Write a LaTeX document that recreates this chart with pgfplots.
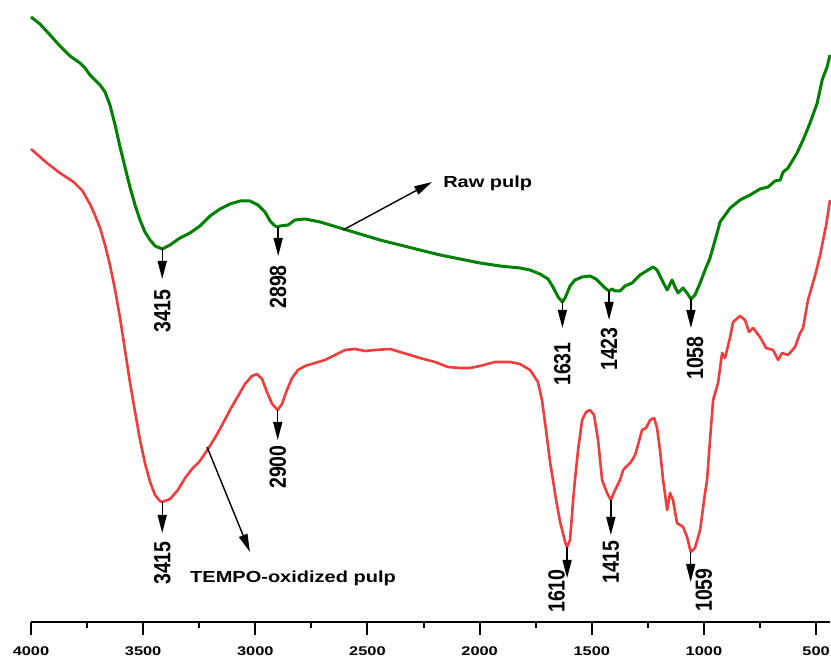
\documentclass[border=0pt]{standalone}
\usepackage{fontspec}
\setmainfont{Liberation Sans}
\usepackage{graphicx}
\usepackage{pgfplots}
\pgfplotsset{compat=1.18}
\usetikzlibrary{arrows.meta}
\definecolor{gcol}{RGB}{0,128,0}
\definecolor{rcol}{RGB}{240,60,60}
\newcommand{\vlab}[1]{\scalebox{1.2}[1]{\rotatebox{90}{\fontsize{19.5}{20}\selectfont\bfseries #1}}}
\newcommand{\hlab}[1]{\scalebox{1.25}[1]{\fontsize{16}{18}\selectfont\bfseries #1}}
\begin{document}
\begin{tikzpicture}
\begin{axis}[
  at={(31pt,39pt)}, anchor=south west,
  scale only axis, width=799pt, height=622pt,
  xmin=438, xmax=4000, ymin=39, ymax=661, x dir=reverse,
  axis x line*=bottom, axis y line=none,
  axis line style={line width=2pt},
  xtick={500,1000,...,4000}, minor x tick num=1,
  tick align=outside,
  major tick length=13pt, minor tick length=6pt,
  every tick/.style={line width=2pt, black},
  /pgf/number format/.cd, 1000 sep={}, assume math mode=true,
  /pgfplots/.cd,
  xticklabel={\scalebox{1.3}[1]{\fontsize{12.6}{14}\selectfont\bfseries\pgfmathprintnumber{\tick}}},
  xticklabel style={anchor=base, inner sep=0pt, yshift=-21pt},
  clip=false,
]
\addplot[gcol, line width=3pt, line join=round] table {
4000 644
3960 637
3915 626
3871 615
3826 605
3782 598
3759 593
3737 586
3715 581
3692 576
3670 569
3648 556
3625 536
3603 514
3581 494
3559 474
3536 456
3514 441
3492 429
3469 421
3447 415
3425 413
3415 412
3380 416
3336 423
3291 428
3247 435
3202 445
3157 452
3113 457
3068 460
3024 460
2988 456
2957 449
2934 440
2912 435
2898 434
2890 435
2854 436
2823 441
2778 442
2711 439
2622 433
2533 427
2444 421
2355 416
2266 411
2176 406
2087 402
1998 398
1909 395
1820 393
1775 391
1731 387
1695 382
1673 374
1650 364
1631 359
1619 363
1597 375
1575 381
1543 384
1508 385
1481 382
1463 378
1441 373
1423 370
1410 372
1396 370
1374 370
1352 375
1320 378
1285 386
1249 391
1227 394
1209 391
1187 381
1164 371
1142 381
1129 374
1115 368
1093 373
1075 368
1058 362
1040 366
1017 378
995 391
973 403
950 421
928 439
883 453
839 461
794 466
750 472
714 474
683 480
660 481
647 489
625 493
585 508
558 521
527 538
495 558
473 581
451 594
438 606
};
\addplot[rcol, line width=2.6pt, line join=round] table {
4000 512
3929 498
3871 488
3810 479
3770 470
3735 456
3715 446
3692 433
3670 416
3648 396
3625 371
3603 343
3581 311
3559 279
3536 249
3514 221
3492 198
3469 179
3447 166
3425 160
3415 159
3380 162
3345 171
3313 183
3282 192
3247 200
3211 212
3180 223
3148 236
3113 251
3077 265
3046 277
3015 285
2992 287
2970 282
2948 269
2925 257
2900 251
2881 257
2859 271
2836 283
2810 291
2778 295
2734 298
2689 301
2645 306
2600 311
2555 312
2511 310
2466 311
2399 312
2355 309
2310 306
2266 303
2199 299
2141 294
2087 293
2043 293
1998 295
1931 299
1864 299
1820 297
1775 291
1740 279
1722 261
1704 231
1686 199
1673 181
1659 161
1641 139
1632 131
1619 119
1610 114
1597 121
1583 161
1575 181
1561 211
1543 241
1525 249
1508 251
1490 246
1472 221
1454 181
1432 168
1415 161
1396 171
1374 181
1360 191
1343 195
1325 199
1307 206
1294 216
1276 231
1258 233
1240 241
1222 243
1209 233
1196 211
1182 181
1164 151
1151 168
1138 161
1120 138
1093 134
1075 124
1059 109
1040 113
1017 131
995 168
986 181
973 221
959 261
937 278
919 308
906 303
883 324
870 339
839 345
817 341
799 329
781 333
750 324
723 313
692 311
669 301
652 308
625 306
594 314
571 328
558 333
536 361
504 386
482 406
455 436
438 461
};
% arrows
\tikzset{va/.style={line width=1.4pt, -{Triangle[length=18pt,width=9pt]}}}
\draw[va] (axis cs:3415,413) -- (axis cs:3415,382);
\draw[va] (axis cs:2898,434) -- (axis cs:2898,405);
\draw[va] (axis cs:1631,359) -- (axis cs:1631,333);
\draw[va] (axis cs:1423,370) -- (axis cs:1423,341);
\draw[va] (axis cs:1058,362) -- (axis cs:1058,333);
\draw[va] (axis cs:3415,159) -- (axis cs:3415,128);
\draw[va] (axis cs:2900,251) -- (axis cs:2900,221);
\draw[va] (axis cs:1610,114) -- (axis cs:1610,83);
\draw[va] (axis cs:1415,161) -- (axis cs:1415,126);
\draw[va] (axis cs:1059,109) -- (axis cs:1059,79);
\draw[va] (axis cs:2609,431) -- (axis cs:2212,479);
\draw[va] (axis cs:3215,214) -- (axis cs:3024,109);
% labels
\node[inner sep=0pt] at (axis cs:3415,350) {\vlab{3415}};
\node[inner sep=0pt] at (axis cs:2898,374) {\vlab{2898}};
\node[inner sep=0pt] at (axis cs:1631,297) {\vlab{1631}};
\node[inner sep=0pt] at (axis cs:1423,312) {\vlab{1423}};
\node[inner sep=0pt] at (axis cs:1040,303) {\vlab{1058}};
\node[inner sep=0pt] at (axis cs:3415,98) {\vlab{3415}};
\node[inner sep=0pt] at (axis cs:2900,194) {\vlab{2900}};
\node[inner sep=0pt] at (axis cs:1657,70) {\vlab{1610}};
\node[inner sep=0pt] at (axis cs:1415,99) {\vlab{1415}};
\node[inner sep=0pt] at (axis cs:1000,71) {\vlab{1059}};
\node[inner sep=0pt, anchor=west] at (axis cs:2163,478) {\hlab{Raw pulp}};
\node[inner sep=0pt, anchor=west] at (axis cs:3291,83) {\hlab{TEMPO-oxidized pulp}};
\end{axis}
\pgfresetboundingbox
\path[use as bounding box] (0,0) rectangle (831pt,661pt);
\end{tikzpicture}
\end{document}
